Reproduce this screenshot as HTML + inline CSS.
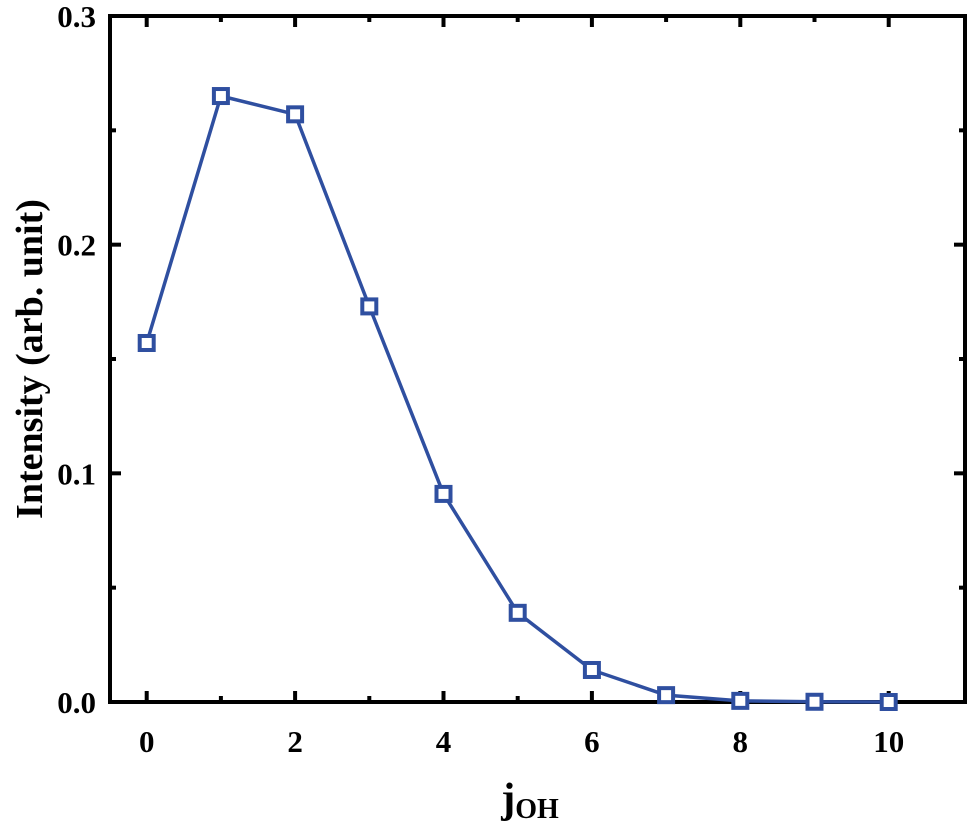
<!DOCTYPE html>
<html><head><meta charset="utf-8"><style>
body{margin:0;background:#fff}
text{font-family:"Liberation Serif",serif;font-weight:bold;fill:#000}
</style></head><body>
<svg width="969" height="829" viewBox="0 0 969 829">
<g id="axes"></g>
<g id="series"></g>
<text x="530" y="812" font-size="42" text-anchor="middle">j<tspan font-size="28" dy="6">OH</tspan></text>
<text transform="translate(42,359) rotate(-90)" font-size="38" text-anchor="middle">Intensity (arb. unit)</text>
</svg>
<script>
const categories=[0,1,2,3,4,5,6,7,8,9,10];
const intensity=[0.157,0.265,0.257,0.173,0.091,0.039,0.014,0.003,0.0005,0.0001,0];
const xTicks=[0,2,4,6,8,10];
const yTicks=[0.0,0.1,0.2,0.3];
const yTickLabels=["0.0","0.1","0.2","0.3"];
const L=110,R=965,T=16,B=702;
const xs=v=>146.7+v*74.2;
const ys=v=>B-(v/0.3)*(B-T);
const NS="http://www.w3.org/2000/svg";
function mk(tag,attrs,parent){const e=document.createElementNS(NS,tag);for(const k in attrs)e.setAttribute(k,attrs[k]);parent.appendChild(e);return e;}
const ax=document.getElementById('axes');
const fr=mk('rect',{x:L,y:T,width:R-L,height:B-T,fill:'none',stroke:'#000','stroke-width':4},ax);


for(let v=0;v<=10;v++){const maj=v%2===0,len=maj?11:6,x=xs(v);
 mk('line',{x1:x,x2:x,y1:B,y2:B-len,stroke:'#000','stroke-width':4},ax);
 mk('line',{x1:x,x2:x,y1:T,y2:T+len,stroke:'#000','stroke-width':4},ax);}
xTicks.forEach(v=>{const t=mk('text',{x:xs(v),y:752,'font-size':31,'text-anchor':'middle'},ax);t.textContent=v;
 
 });
for(let i=0;i<=6;i++){const v=i*0.05,maj=i%2===0,len=maj?11:6,y=ys(v);
 mk('line',{x1:L,x2:L+len,y1:y,y2:y,stroke:'#000','stroke-width':4},ax);
 mk('line',{x1:R,x2:R-len,y1:y,y2:y,stroke:'#000','stroke-width':4},ax);}
yTicks.forEach((v,i)=>{const t=mk('text',{x:96,y:ys(v)+11,'font-size':31,'text-anchor':'end'},ax);t.textContent=yTickLabels[i];
 
 });
const sg=document.getElementById('series');
const pts=categories.map((c,i)=>xs(c)+','+ys(intensity[i])).join(' ');
const pl=mk('polyline',{points:pts,fill:'none',stroke:'#2f4fa0','stroke-width':3.5},sg);


categories.forEach((c,i)=>{const r=mk('rect',{x:xs(c)-7,y:ys(intensity[i])-7,width:14,height:14,fill:'#fff',stroke:'#2f4fa0','stroke-width':4},sg);
 
 });
</script>
</body></html>
